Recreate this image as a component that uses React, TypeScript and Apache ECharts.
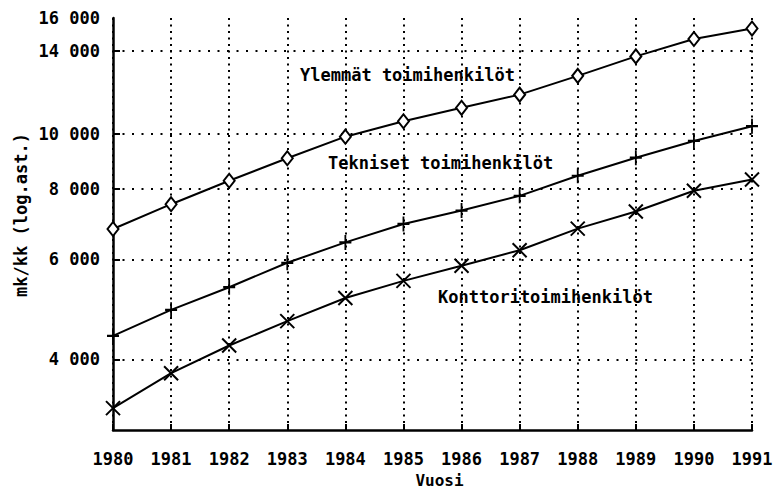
import React, { useEffect, useRef } from "react";
import * as echarts from "echarts";

const years = [1980, 1981, 1982, 1983, 1984, 1985, 1986, 1987, 1988, 1989, 1990, 1991];
const ylemmat = [6790, 7510, 8260, 9050, 9880, 10520, 11110, 11720, 12650, 13690, 14690, 15330];
const tekniset = [4400, 4890, 5360, 5920, 6430, 6930, 7320, 7770, 8430, 9070, 9710, 10310];
const konttori = [3280, 3780, 4230, 4670, 5130, 5500, 5850, 6230, 6800, 7290, 7930, 8300];
const yTickLabels = [4000, 6000, 8000, 10000, 14000, 16000];
const yGridValues = [4000, 6000, 8000, 10000, 14000];
const seriesNames = ["Ylemmät toimihenkilöt", "Tekniset toimihenkilöt", "Konttoritoimihenkilöt"];

const FONT = "'DejaVu Sans Mono', monospace";

export default function App() {
  const ref = useRef<HTMLDivElement>(null);
  useEffect(() => {
    document.body.style.margin = "0";
    if (!ref.current) return;
    const chart = echarts.init(ref.current, undefined, { renderer: "svg" });
    const pair = (vals: number[]) => years.map((y, i) => [y, vals[i]]);
    const lineBase = {
      type: "line",
      lineStyle: { color: "#000", width: 2 },
      z: 3,
    };
    chart.setOption({
      animation: false,
      backgroundColor: "#fff",
      grid: { left: 113, right: 32, top: 18, bottom: 57, containLabel: false },
      xAxis: {
        type: "value",
        min: 1980,
        max: 1991,
        interval: 1,
        name: "Vuosi",
        nameLocation: "middle",
        nameGap: 41,
        nameTextStyle: { fontFamily: FONT, fontSize: 16, fontWeight: "bold", color: "#000", padding: [0, 0, 0, 14] },
        axisLine: { show: true, onZero: false, lineStyle: { color: "#000", width: 2.5 } },
        axisTick: { show: true, inside: true, length: 6, lineStyle: { color: "#000", width: 2 } },
        axisLabel: {
          margin: 20,
          fontFamily: FONT,
          fontSize: 17,
          fontWeight: "bold",
          color: "#000",
          formatter: (v: number) => String(Math.round(v)),
        },
        splitLine: { show: true, lineStyle: { color: "#000", width: 2, type: [2, 4.5] } },
      },
      yAxis: {
        type: "log",
        logBase: 10,
        min: 3000,
        max: 16000,
        axisLine: { show: true, lineStyle: { color: "#000", width: 2.5 } },
        axisTick: {
          show: true,
          inside: true,
          length: 7,
          customValues: yGridValues,
          lineStyle: { color: "#000", width: 2 },
        },
        axisLabel: {
          margin: 13,
          customValues: yTickLabels,
          fontFamily: FONT,
          fontSize: 17,
          fontWeight: "bold",
          color: "#000",
          formatter: (v: number) => `${Math.round(v / 1000)} 000`,
        },
        splitLine: { show: false },
      },
      graphic: [
        {
          type: "text",
          x: 21,
          y: 215,
          rotation: Math.PI / 2,
          style: {
            text: "mk/kk (log.ast.)",
            fontFamily: FONT,
            fontSize: 17,
            fontWeight: "bold",
            fill: "#000",
            align: "center",
            verticalAlign: "middle",
          },
        },
        {
          type: "text",
          x: 300,
          y: 75,
          style: { text: seriesNames[0], fontFamily: FONT, fontSize: 17, fontWeight: "bold", fill: "#000", align: "left", verticalAlign: "middle" },
        },
        {
          type: "text",
          x: 328,
          y: 163,
          style: { text: seriesNames[1], fontFamily: FONT, fontSize: 17, fontWeight: "bold", fill: "#000", align: "left", verticalAlign: "middle" },
        },
        {
          type: "text",
          x: 438,
          y: 297,
          style: { text: seriesNames[2], fontFamily: FONT, fontSize: 17, fontWeight: "bold", fill: "#000", align: "left", verticalAlign: "middle" },
        },
      ],
      series: [
        {
          ...lineBase,
          name: seriesNames[0],
          data: pair(ylemmat),
          symbol: "diamond",
          symbolSize: [11, 14],
          itemStyle: { color: "#fff", borderColor: "#000", borderWidth: 2 },
          markLine: {
            silent: true,
            symbol: "none",
            label: { show: false },
            lineStyle: { color: "#000", width: 2, type: [2, 7.5] },
            z: 1,
            data: yGridValues.map((v) => ({ yAxis: v })),
          },
        },
        {
          ...lineBase,
          name: seriesNames[1],
          data: pair(tekniset),
          symbol: "path://M0,7L12,7M6,0L6,14",
          symbolSize: [12, 15],
          itemStyle: { color: "#000", borderColor: "#000", borderWidth: 2 },
        },
        {
          ...lineBase,
          name: seriesNames[2],
          data: pair(konttori),
          symbol: "path://M0,0L14,14M14,0L0,14",
          symbolSize: [14, 14],
          itemStyle: { color: "#000", borderColor: "#000", borderWidth: 2 },
        },
      ],
    });
    return () => chart.dispose();
  }, []);
  return <div ref={ref} style={{ width: 784, height: 493 }} />;
}
